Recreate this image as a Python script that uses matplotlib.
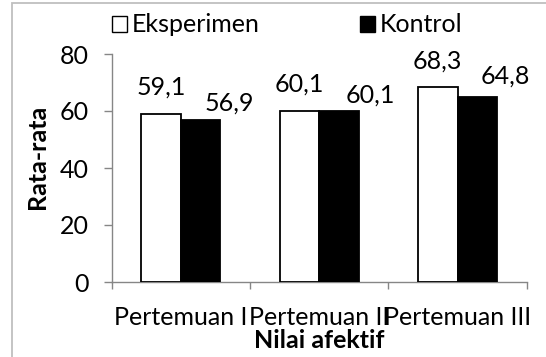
import matplotlib
matplotlib.use("Agg")
import matplotlib.pyplot as plt
import matplotlib.patches as mpatches
import numpy as np

# data
categories = ["Pertemuan I", "Pertemuan II", "Pertemuan III"]
eksperimen = [59.1, 60.1, 68.3]
kontrol = [56.9, 60.1, 64.8]
series_names = ["Eksperimen", "Kontrol"]

# label nudges (points) for the hand-placed Kontrol value labels
kontrol_dx = [20.5, 22.5, 20.5]
kontrol_dy = [6.5, 5.5, 10.0]

FONT = "Lato"
FS = 18
AXIS_GRAY = "#868686"

plt.rcParams["font.family"] = [FONT, "DejaVu Sans"]

fig = plt.figure(figsize=(5.46, 3.57), dpi=100)
fig.patch.set_facecolor("white")

# outer chart-area border (only left and top edges are inside the crop)
fig.patches.append(mpatches.Rectangle(
    (12 / 546, -0.05), 1.1, 1.05 - 3 / 357,
    transform=fig.transFigure, fill=False,
    edgecolor="#bfbfbf", linewidth=1.3))

ax = fig.add_axes([111.7 / 546, 75 / 357, 415 / 546, 228 / 357])

x = np.arange(len(categories))
w = 0.2856

ax.bar(x - w, eksperimen, width=w, align="edge",
       facecolor="white", edgecolor="black", linewidth=1.3, zorder=3)
ax.bar(x, kontrol, width=w, align="edge",
       facecolor="black", edgecolor="black", linewidth=1.3, zorder=3)

# value labels, comma decimals
for i, v in enumerate(eksperimen):
    ax.annotate(f"{v:.1f}".replace(".", ","), xy=(x[i] - w / 2, v),
                xytext=(0, 13.5), textcoords="offset points",
                ha="center", va="baseline", fontsize=FS)
for i, v in enumerate(kontrol):
    ax.annotate(f"{v:.1f}".replace(".", ","), xy=(x[i] + w / 2, v),
                xytext=(kontrol_dx[i], kontrol_dy[i]), textcoords="offset points",
                ha="center", va="baseline", fontsize=FS)

ax.set_xlim(-0.5, len(categories) - 0.5)
ax.set_ylim(0, 80)
ax.set_yticks([0, 20, 40, 60, 80])

# tick marks at category boundaries, labels at category centres
ax.set_xticks(np.arange(len(categories) + 1) - 0.5)
ax.set_xticklabels([])
ax.set_xticks(x, minor=True)
ax.set_xticklabels(categories, minor=True, fontsize=FS)
ax.tick_params(axis="x", which="major", direction="out", length=5,
               width=1.0, color=AXIS_GRAY)
ax.tick_params(axis="x", which="minor", length=0, pad=17)
ax.tick_params(axis="y", direction="out", length=5.5, width=1.0,
               color=AXIS_GRAY, labelsize=FS, pad=11)

for side in ("top", "right"):
    ax.spines[side].set_visible(False)
for side in ("left", "bottom"):
    ax.spines[side].set_color(AXIS_GRAY)
    ax.spines[side].set_linewidth(1.0)

ax.set_ylabel("Rata-rata", fontsize=FS, fontweight="bold")
ax.yaxis.set_label_coords(-0.15, 0.55)
ax.set_xlabel("Nilai afektif", fontsize=FS, fontweight="bold")
ax.xaxis.set_label_coords(0.5, -0.205)

handles = [
    mpatches.Patch(facecolor="white", edgecolor="black", linewidth=1.0, label=series_names[0]),
    mpatches.Patch(facecolor="black", edgecolor="black", linewidth=1.0, label=series_names[1]),
]
fig.legend(handles=handles, loc="center", bbox_to_anchor=(287 / 546, 1 - 25 / 357),
           ncol=2, frameon=False, fontsize=FS, handlelength=0.6, handleheight=0.6,
           handletextpad=0.2, columnspacing=4.0, borderpad=0, borderaxespad=0)

fig.savefig("out.png", dpi=100, facecolor="white")
